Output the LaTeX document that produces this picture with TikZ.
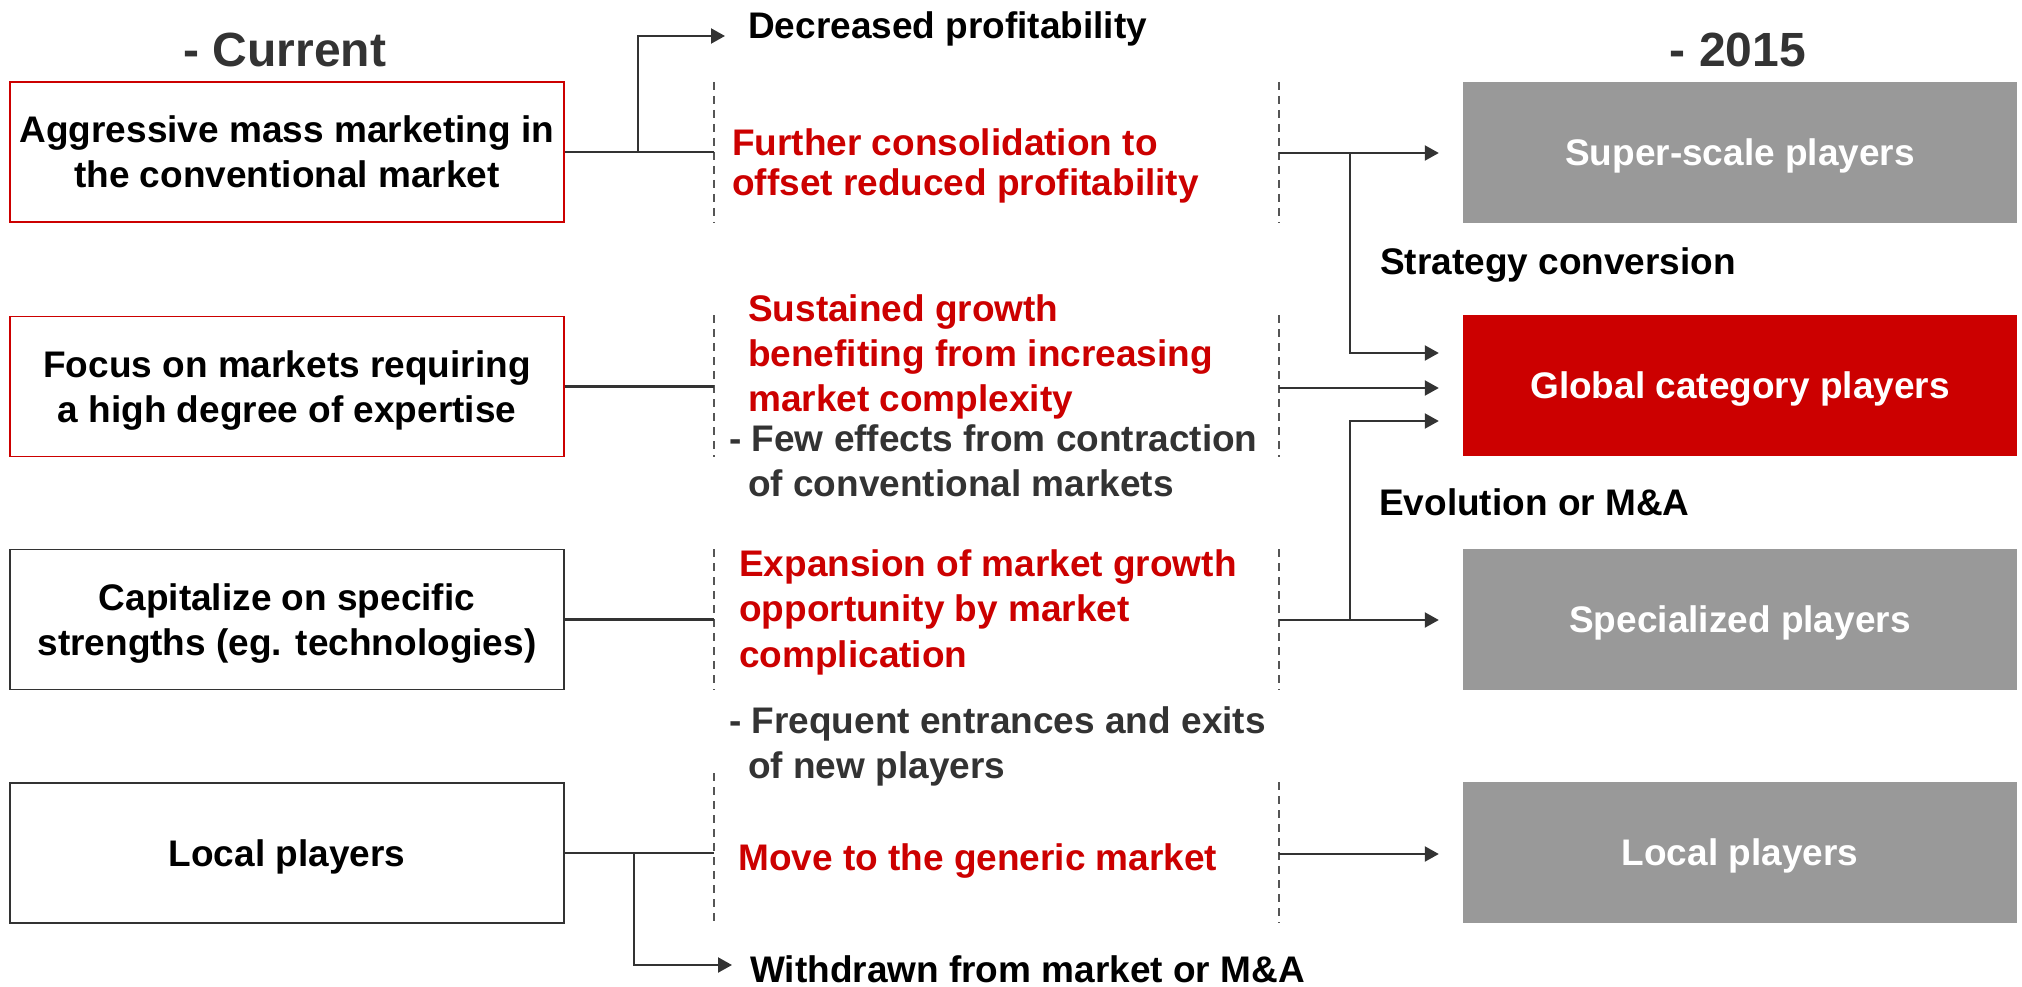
\documentclass[tikz,border=0pt]{standalone}
\usepackage{fontspec}
\setmainfont{Liberation Sans}
\usetikzlibrary{arrows.meta}
\definecolor{cred}{HTML}{CC0000}
\definecolor{cgray}{HTML}{999999}
\definecolor{cdark}{HTML}{333333}
\definecolor{cline}{HTML}{333333}
\definecolor{cdash}{HTML}{555555}
\begin{document}
\begin{tikzpicture}[x=1pt,y=-1pt,
  fnt/.style={font=\fontsize{37}{44.5}\selectfont\bfseries},
  leftbox/.style={draw, line width=1.6pt, fill=white, minimum width=554pt, minimum height=140pt, inner sep=0pt, align=center, fnt},
  rightbox/.style={fill=#1, minimum width=554pt, minimum height=141pt, inner sep=0pt, text=white, fnt, text height=26.5pt, text depth=0pt},
  hdr/.style={font=\fontsize{48}{56}\selectfont\bfseries, text=cdark, inner sep=0pt},
  redtxt/.style={fnt, text=cred, align=left, inner sep=0pt, anchor=west},
  graytxt/.style={fnt, text=cdark, align=left, inner sep=0pt, anchor=west},
  blacktxt/.style={fnt, text=black, align=left, inner sep=0pt, anchor=west},
  dashln/.style={draw=cdash, line width=1.5pt, dash pattern=on 8pt off 6pt},
  conn/.style={draw=cline, line width=2.2pt},
  arr/.style={conn, -{Triangle[length=14pt,width=15pt]}}
]
\useasboundingbox (0,0) rectangle (2022,987);

% headers
\node[hdr] (cur) at (285,50) {- Current};
\node[hdr] (yr) at (1738,50) {- 2015};

% left boxes
\node[leftbox, draw=cred] (c1) at (287,152) {Aggressive mass marketing in\\the conventional market};
\node[leftbox, draw=cred] (c2) at (287,386.5) {\rule{0pt}{35pt}Focus on markets requiring\\a high degree of expertise};
\node[leftbox, draw=cdark] (c3) at (287,619.5) {\rule{0pt}{35pt}Capitalize on specific\\strengths (eg. technologies)};
\node[leftbox, draw=cdark, text height=26.5pt, text depth=0pt] (c4) at (287,853) {Local players};

% right boxes
\node[rightbox=cgray] (ss) at (1740,152.5) {Super-scale players};
\node[rightbox=cred] (gc) at (1740,385.5) {Global category players};
\node[rightbox=cgray] (sp) at (1740,619.5) {Specialized players};
\node[rightbox=cgray] (lp) at (1740,852.5) {Local players};

% dashed separators
\draw[dashln] (714,82) -- (714,223);
\draw[dashln] (1279,82) -- (1279,223);
\draw[dashln] (714,315) -- (714,457);
\draw[dashln] (1279,315) -- (1279,457);
\draw[dashln] (714,549) -- (714,690);
\draw[dashln] (1279,549) -- (1279,690);
\draw[dashln] (714,773) -- (714,923);
\draw[dashln] (1279,782) -- (1279,923);

% middle texts
\node[blacktxt] (dec) at (748,28.5) {Decreased profitability};
\node[redtxt, font=\fontsize{37}{40}\selectfont\bfseries] (m1) at (732,165.5) {Further consolidation to\\offset reduced profitability};
\node[redtxt, font=\fontsize{37}{45}\selectfont\bfseries] (m2) at (748,357) {Sustained growth\\benefiting from increasing\\market complexity};
\node[graytxt, font=\fontsize{37}{45}\selectfont\bfseries] (n2) at (729,461) {- Few effects from contraction\\\hspace*{19pt}of conventional markets};
\node[redtxt, font=\fontsize{37}{45.5}\selectfont\bfseries] (m3) at (739,612) {Expansion of market growth\\opportunity by market\\complication};
\node[graytxt, font=\fontsize{37}{45}\selectfont\bfseries] (n3) at (729,746) {- Frequent entrances and exits\\\hspace*{19pt}of new players};
\node[redtxt] (m4) at (738,861.5) {Move to the generic market};
\node[blacktxt] (wd) at (750,969.5) {Withdrawn from market or M\&A};

% right-side labels
\node[blacktxt] (sc) at (1380,265.5) {Strategy conversion};
\node[blacktxt] (ev) at (1379,502.5) {Evolution or M\&A};

% coordinates on dashed lines
\coordinate (D1) at (714,152);
\coordinate (D2) at (714,386.5);
\coordinate (D3) at (714,619.5);
\coordinate (D4) at (714,853);
\coordinate (R1) at (1279,153);
\coordinate (R2) at (1279,388);
\coordinate (R3) at (1279,620);
\coordinate (R4) at (1279,854);
\coordinate (A1) at (638,152);
\coordinate (A4) at (634,853);
\coordinate (B1) at (1350,153);
\coordinate (B3) at (1350,620);

% left connectors
\draw[conn] (c1.east) -- (D1);
\draw[conn] (c2.east) -- (D2);
\draw[conn] (c3.east) -- (D3);
\draw[conn] (c4.east) -- (D4);
\draw[arr, shorten >=23pt] (A1) |- ([yshift=-7.5pt]dec.west);
\draw[arr, shorten >=18pt] (A4) |- ([yshift=4.5pt]wd.west);

% right connectors
\draw[arr, shorten >=24pt] (R1) -- (ss.west |- R1);
\draw[arr, shorten >=24pt] (B1) |- ([yshift=32.5pt]gc.west);
\draw[arr, shorten >=24pt] (R2) -- (gc.west |- R2);
\draw[arr, shorten >=24pt] (B3) |- ([yshift=-35.5pt]gc.west);
\draw[arr, shorten >=24pt] (R3) -- (sp.west |- R3);
\draw[arr, shorten >=24pt] (R4) -- (lp.west |- R4);
\end{tikzpicture}
\end{document}
